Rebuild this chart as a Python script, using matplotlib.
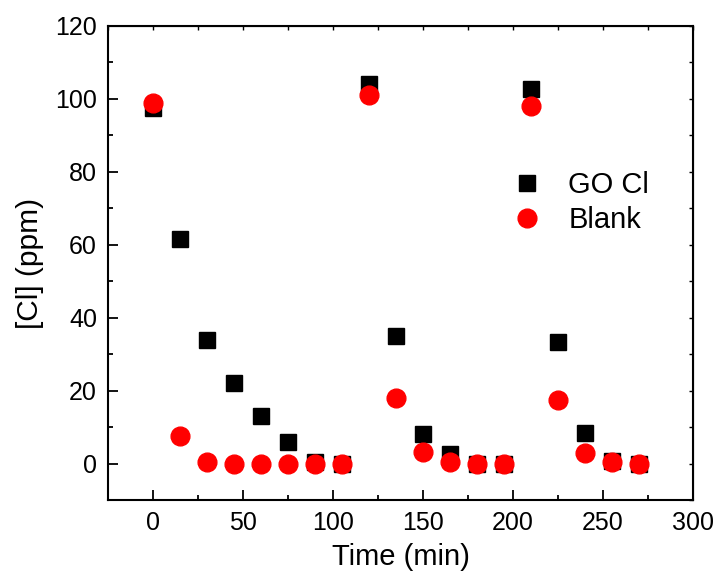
import matplotlib
matplotlib.use("Agg")
import matplotlib.pyplot as plt
from matplotlib.ticker import MultipleLocator

plt.rcParams['font.family'] = ['Liberation Sans', 'DejaVu Sans']

time_min = [0, 15, 30, 45, 60, 75, 90, 105, 120, 135, 150, 165, 180, 195, 210, 225, 240, 255, 270]
go_cl = [97.5, 61.5, 34, 22, 13, 5.8, 0.4, 0, 104, 35, 8.2, 2.7, 0, 0, 102.8, 33.3, 8.5, 0.8, 0]
blank = [99, 7.5, 0.5, 0, 0, 0, 0, 0, 101, 18, 3.2, 0.5, 0, 0, 98, 17.4, 3, 0.4, 0]

fig = plt.figure(figsize=(7.18, 5.82), dpi=100)
ax = fig.add_axes([108/718, 1-500/582, 585/718, 474/582])

ax.plot(time_min, go_cl, linestyle='none', marker='s', markersize=12, color='black', label='GO Cl')
ax.plot(time_min, blank, linestyle='none', marker='o', markersize=13.5, color='#ff0000', label='Blank')

ax.set_xlim(-25, 300)
ax.set_ylim(-10, 120)
ax.xaxis.set_major_locator(MultipleLocator(50))
ax.xaxis.set_minor_locator(MultipleLocator(25))
ax.yaxis.set_major_locator(MultipleLocator(20))
ax.yaxis.set_minor_locator(MultipleLocator(10))
ax.tick_params(which='major', direction='in', length=7, width=1.3, labelsize=18, pad=8)
ax.tick_params(which='minor', direction='in', length=3.5, width=1.3)
for s in ax.spines.values():
    s.set_linewidth(1.5)

top = ax.secondary_xaxis('top')
top.xaxis.set_major_locator(MultipleLocator(25))
top.tick_params(direction='in', length=3, width=1.0, labeltop=False)
right = ax.secondary_yaxis('right')
right.yaxis.set_major_locator(MultipleLocator(10))
right.tick_params(direction='in', length=3, width=1.0, labelright=False)

ax.set_xlabel('Time (min)', fontsize=21, labelpad=6)
ax.set_ylabel('[Cl] (ppm)', fontsize=21.5, labelpad=8)

ax.legend(loc='upper left', bbox_to_anchor=(0.6915, 0.694), frameon=False, fontsize=21,
          numpoints=1, handlelength=1.0, handletextpad=0.91, borderpad=0, borderaxespad=0,
          labelspacing=0.245)

fig.savefig('out.png', dpi=100)
